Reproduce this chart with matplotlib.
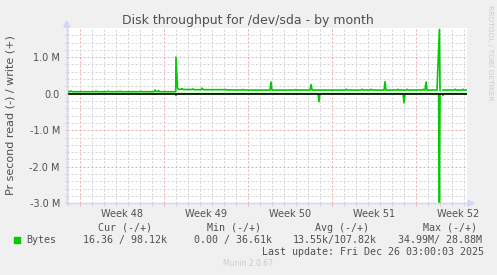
import numpy as np
import matplotlib
matplotlib.use("Agg")
import matplotlib.pyplot as plt
from matplotlib.ticker import FixedLocator, MultipleLocator, FuncFormatter
from matplotlib.patches import Polygon, Rectangle

# time axis in days from the left edge of the graph (33.3 days shown)
week_starts = [1.08, 8.08, 15.08, 22.08, 29.08]
week_labels = ["Week 48", "Week 49", "Week 50", "Week 51", "Week 52"]

# write (+) in MB/s, read in MB/s (drawn negative)
write_days = [0, 0.25, 0.33, 0.46, 2.33, 2.42, 2.50, 3.33, 3.42, 3.50,
              4.33, 4.42, 4.50, 6.08, 6.17, 6.25, 7.25, 7.33, 7.42, 7.54,
              7.63, 7.71, 9.06, 9.08, 9.21, 9.29, 9.50, 9.58, 9.67, 10.42,
              10.50, 10.58, 11.17, 11.25, 11.33, 13.08, 13.17, 13.25, 14.58,
              14.67, 14.75, 16.92, 17.00, 17.08, 19.00, 19.08, 19.17, 20.25,
              20.33, 20.42, 23.17, 23.25, 23.33, 24.50, 24.58, 24.67, 25.25,
              25.33, 25.42, 26.42, 26.50, 26.58, 27.50, 27.58, 27.67, 28.25,
              28.33, 28.42, 29.58, 29.67, 29.75, 29.83, 29.92, 30.00, 30.83,
              31.03, 31.08, 31.17, 31.33, 32.25, 32.33, 32.42, 32.92, 33.00,
              33.08, 33.25]
write_mb = [0.055, 0.055, 0.075, 0.055, 0.055, 0.07, 0.055, 0.055, 0.07, 0.055,
            0.055, 0.068, 0.055, 0.055, 0.065, 0.055, 0.055, 0.10, 0.06, 0.06,
            0.08, 0.055, 0.055, 1.0, 0.15, 0.12, 0.12, 0.14, 0.115, 0.115,
            0.13, 0.11, 0.11, 0.155, 0.11, 0.11, 0.12, 0.105, 0.10,
            0.115, 0.10, 0.10, 0.32, 0.10, 0.10, 0.115, 0.10, 0.10,
            0.25, 0.10, 0.10, 0.125, 0.10, 0.10, 0.12, 0.10, 0.10,
            0.12, 0.10, 0.10, 0.33, 0.10, 0.10, 0.12, 0.10, 0.10,
            0.12, 0.10, 0.10, 0.12, 0.10, 0.10, 0.32, 0.10, 0.10,
            1.76, 0.10, np.nan, 0.10, 0.10, 0.12, 0.10, 0.10, 0.12,
            0.10, 0.10]

read_days = [0, 9.00, 9.08, 9.17, 20.92, 21.00, 21.08, 28.00, 28.08, 28.17,
             30.96, 31.03, 31.08, 31.25, 31.33, 31.42, 33.25]
read_mb = [0, 0, 0.05, 0, 0, 0.22, 0, 0, 0.25, 0,
           0, 2.98, 0, 0, 0.05, 0, 0]

legend_headers = ["Cur (-/+)", "Min (-/+)", "Avg (-/+)", "Max (-/+)"]
legend_values = ["16.36 / 98.12k", "0.00 / 36.61k", "13.55k/107.82k", "34.99M/ 28.88M"]

W, H = 497, 275
txt = "#505050"
green = "#00cc00"
axis_col = "#cfd6f8"


def P(x, y):
    # pixel position -> figure fraction
    return (x / W, 1 - y / H)


fig = plt.figure(figsize=(W / 100, H / 100), dpi=100, facecolor="#f0f0f0")
plt.rcParams["font.family"] = "DejaVu Sans"

ax = fig.add_axes([67 / W, 1 - 203.3 / H, 400 / W, 175 / H])
ax.set_facecolor("white")
for s in ax.spines.values():
    s.set_visible(False)

ax.set_xlim(0, 33.33)
ax.set_ylim(-3.0e6, 1.79e6)

days = [week_starts[0] - 1 + k for k in range(35)]
ax.xaxis.set_major_locator(FixedLocator(week_starts))
ax.xaxis.set_minor_locator(FixedLocator(days))
ax.yaxis.set_major_locator(MultipleLocator(1e6))
ax.yaxis.set_minor_locator(MultipleLocator(2e5))
ax.set_xticklabels([])


def yfmt(v, pos):
    if abs(v) < 1:
        return "0.0"
    return f"{v / 1e6:.1f} M"


ax.yaxis.set_major_formatter(FuncFormatter(yfmt))

ax.grid(which="minor", color="#d4d4d4", linestyle=(0, (2, 2)), lw=0.72)
ax.grid(which="major", color="#f0a8a8", linestyle=(0, (2, 2)), lw=0.72)
ax.set_axisbelow(True)

ax.tick_params(axis="x", which="major", length=2.5, color="#f0a8a8", width=0.72)
ax.tick_params(axis="x", which="minor", length=2, color="#d4d4d4", width=0.72)
ax.tick_params(axis="y", which="both", length=1.5, color="#d4d4d4", width=0.72,
               labelsize=7, labelcolor=txt, pad=3.6)

# week names sit in the middle of each week
for ws, lab in zip(week_starts, week_labels):
    ax.text(ws + 3.5, -0.03, lab, ha="center", va="top", fontsize=7, color=txt,
            transform=ax.get_xaxis_transform(), clip_on=False)

rv = -np.array(read_mb) * 1e6
wv = np.array(write_mb) * 1e6
ax.plot(read_days, rv, color=green, lw=1.2, zorder=2)
ax.axhline(0, color="black", lw=1.1, zorder=3)
ax.plot(write_days, wv, color=green, lw=1.2, zorder=4)

# axes lines + arrows
fig.add_artist(plt.Line2D([P(66.7, 0)[0]] * 2, [P(0, 203.8)[1], P(0, 25)[1]],
                          color=axis_col, lw=1, transform=fig.transFigure))
fig.add_artist(plt.Line2D([P(66.2, 0)[0], P(470, 0)[0]], [P(0, 203.3)[1]] * 2,
                          color=axis_col, lw=1, transform=fig.transFigure))
fig.add_artist(Polygon([P(66.7, 21), P(63.7, 27), P(69.7, 27)], closed=True,
                       color=axis_col, transform=fig.transFigure))
fig.add_artist(Polygon([P(474, 203.3), P(468, 200.3), P(468, 206.3)], closed=True,
                       color=axis_col, transform=fig.transFigure))

# title and labels
fig.text(*P(248, 24), "Disk throughput for /dev/sda - by month", ha="center",
         va="baseline", fontsize=9, color=txt)
fig.text(*P(11, 115), "Pr second read (-) / write (+)", rotation=90, ha="center",
         va="center", fontsize=8, color=txt)
fig.text(*P(490, 53), "RRDTOOL / TOBI OETIKER", rotation=270, ha="center",
         va="center", fontsize=5.4, color="#cccccc")
fig.text(*P(223, 266.5), "Munin 2.0.67", ha="left", va="baseline", fontsize=5.5,
         color="#cccccc")

# legend
mono = "DejaVu Sans Mono"
for x, h in zip([98, 207, 315, 423], legend_headers):
    fig.text(*P(x, 231), h, ha="left", va="baseline", fontsize=7.2, family=mono, color=txt)
fig.add_artist(Rectangle(P(14, 242.7), 6 / W, 6 / H, color=green, transform=fig.transFigure))
fig.text(*P(26, 243), "Bytes", ha="left", va="baseline", fontsize=7.2, family=mono, color=txt)
for x, v in zip([83, 194, 293, 398], legend_values):
    fig.text(*P(x, 243), v, ha="left", va="baseline", fontsize=7.2, family=mono, color=txt)
fig.text(*P(262, 255), "Last update: Fri Dec 26 03:00:03 2025", ha="left",
         va="baseline", fontsize=7.2, family=mono, color=txt)

fig.savefig("out.png", dpi=100, facecolor=fig.get_facecolor())
